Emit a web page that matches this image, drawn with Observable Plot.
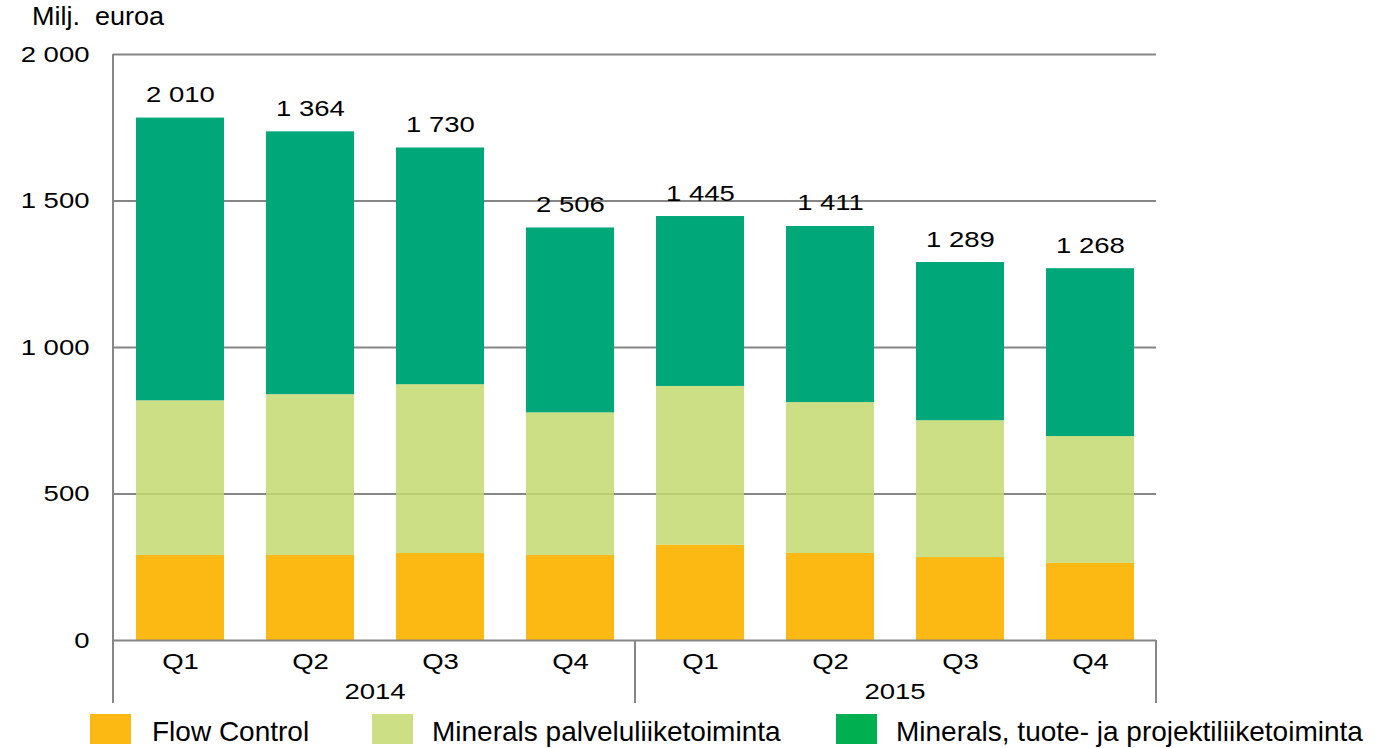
<!DOCTYPE html>
<html>
<head>
<meta charset="utf-8">
<script src="https://cdn.jsdelivr.net/npm/d3@7"></script>
<script src="https://cdn.jsdelivr.net/npm/@observablehq/plot@0.6"></script>
<style>
  body { margin: 0; width: 1375px; height: 748px; overflow: hidden; background: #fff;
         font-family: "Liberation Sans", Arial, sans-serif; color: #000; }
  #title { position: relative; height: 40px; }
  #title span { position: absolute; left: 32px; top: 4px; font-size: 25px; line-height: 25px;
                white-space: pre; transform: scaleX(1.08); transform-origin: left center; }
  #legend { position: relative; height: 43px; }
  #legend .sw { position: absolute; top: 9px; width: 41px; height: 30px; }
  #legend .lb { position: absolute; top: 13px; font-size: 28px; line-height: 28px; white-space: pre; }
</style>
</head>
<body>
<div id="title"><span>Milj.  euroa</span></div>
<div id="chart"></div>
<div id="legend"></div>
<script>
// ---- data ----
const years = ["2014", "2014", "2014", "2014", "2015", "2015", "2015", "2015"];
const quarters = ["Q1", "Q2", "Q3", "Q4", "Q1", "Q2", "Q3", "Q4"];
const seriesNames = ["Flow Control", "Minerals palveluliiketoiminta", "Minerals, tuote- ja projektiliiketoiminta"];
const flowControl = [290, 290, 297, 290, 325, 297, 283, 264];
const mineralsPalvelu = [528, 549, 576, 487, 542, 515, 467, 432];
const mineralsTuote = [965, 897, 808, 631, 580, 601, 540, 573];
const barLabels = ["2 010", "1 364", "1 730", "2 506", "1 445", "1 411", "1 289", "1 268"];
const yTicks = [0, 500, 1000, 1500, 2000];
const yTickLabels = ["0", "500", "1 000", "1 500", "2 000"];
const yearLabels = ["2014", "2015"];

// ---- styles ----
const barColors = ["#FDB913", "#C3D96E", "#00A779"];
const legendColors = ["#FDB913", "#CCDF84", "#00AF50"];
const gridColor = "#868686";
const stretch = 1.25;
const fs = 22;

const keys = quarters.map((q, i) => years[i] + " " + q);
const seriesValues = [flowControl, mineralsPalvelu, mineralsTuote];
const table = keys.flatMap((k, i) => seriesNames.map((s, j) => ({key: k, series: s, value: seriesValues[j][i]})));
const totals = keys.map((k, i) => ({key: k, total: d3.sum(seriesValues, v => v[i]), label: barLabels[i]}));

const chart = Plot.plot({
  width: 1375,
  height: 665,
  marginTop: 14,
  marginBottom: 65,
  marginLeft: 113,
  marginRight: 219,
  style: {fontFamily: "'Liberation Sans', Arial, sans-serif", fontSize: fs + "px", color: "#000", background: "#fff"},
  x: {domain: keys, paddingInner: 0.325, paddingOuter: 0.1625, tickSize: 0, tickPadding: 13,
      tickFormat: k => quarters[keys.indexOf(k)], label: null},
  y: {domain: [0, 2000], ticks: yTicks, tickSize: 0, tickPadding: 24,
      tickFormat: d => yTickLabels[yTicks.indexOf(d)], label: null},
  color: {domain: seriesNames, range: barColors},
  marks: [
    Plot.ruleY(yTicks.filter(d => d > 0), {stroke: gridColor, strokeWidth: 2}),
    Plot.barY(table, {x: "key", y: "value", fill: "series",
      fillOpacity: d => d.series === seriesNames[1] ? 0.85 : 1}),
    Plot.ruleY([0], {stroke: gridColor, strokeWidth: 2}),
    Plot.text(totals, {x: "key", y: "total", text: "label", dy: -16, lineAnchor: "bottom", fontSize: fs, fill: "#000"})
  ]
});
document.getElementById("chart").appendChild(chart);

// ---- category (year) axis: separators and year labels from Plot's scales ----
const xs = chart.scale("x");
const ys = chart.scale("y");
const bw = xs.bandwidth;
const y0 = ys.apply(0);
const svg = d3.select(chart.tagName.toLowerCase() === "svg" ? chart : chart.querySelector("svg"));
const g = svg.append("g");
const boundaries = [xs.range[0]];
yearLabels.forEach((yr, yi) => {
  const ks = keys.filter((k, i) => years[i] === yr);
  const a = xs.apply(ks[0]), b = xs.apply(ks[ks.length - 1]) + bw;
  g.append("text").attr("x", (a + b) / 2).attr("y", y0 + 59).attr("text-anchor", "middle")
    .attr("font-size", fs).attr("fill", "#000").text(yr);
  if (yi < yearLabels.length - 1) {
    const nextFirst = keys[years.indexOf(yearLabels[yi + 1])];
    boundaries.push((b + xs.apply(nextFirst)) / 2);
  }
});
boundaries.push(xs.range[1]);
boundaries.forEach((bx, i) => {
  g.append("line").attr("x1", bx).attr("x2", bx)
    .attr("y1", i === 0 ? ys.apply(2000) : y0).attr("y2", y0 + 63)
    .attr("stroke", gridColor).attr("stroke-width", 2);
});

// horizontal stretch of chart texts, as in the reference
svg.selectAll("text").each(function() {
  const len = this.getComputedTextLength();
  if (len > 0) {
    this.setAttribute("textLength", len * stretch);
    this.setAttribute("lengthAdjust", "spacingAndGlyphs");
  }
});

// ---- legend ----
const legend = d3.select("#legend");
const swatchX = [90, 372, 836];
const labelX = [152, 432, 896];
seriesNames.forEach((s, i) => {
  legend.append("div").attr("class", "sw").style("left", swatchX[i] + "px").style("background", legendColors[i]);
  legend.append("div").attr("class", "lb").style("left", labelX[i] + "px").text(s);
});
</script>
</body>
</html>
